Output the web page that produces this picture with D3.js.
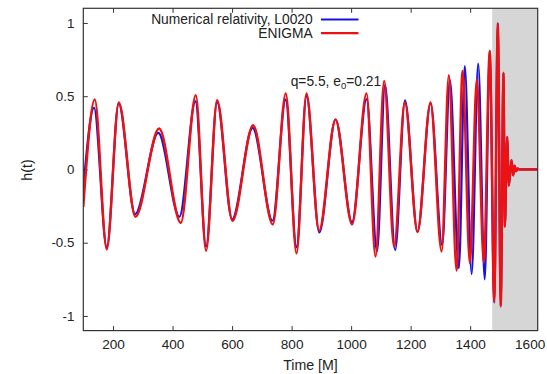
<!DOCTYPE html>
<html>
<head>
<meta charset="utf-8">
<script src="https://cdn.jsdelivr.net/npm/d3@7"></script>
<style>
  html, body { margin: 0; padding: 0; background: #fff; }
  svg { display: block; font-family: "Liberation Sans", Arial, Helvetica, sans-serif; }
</style>
</head>
<body>
<svg id="chart" width="547" height="374"></svg>
<script>
// Extrema (and a few anchor points) of the strain h(t), time in units of M.
const enigmaTime = [100, 138.5, 178.8, 219.2, 275.3, 354.6, 427.6, 478, 512.6, 549.6, 601.3, 670.6,
  736.8, 780.5, 816.5, 850, 892.4, 947.6, 1003.4, 1051.8, 1082, 1111, 1144.5, 1180.5, 1223.2, 1267,
  1304, 1328.4, 1354.3, 1374.5, 1399, 1422.5, 1446, 1466, 1480.7, 1493, 1502.8, 1512, 1516.6,
  1524.4, 1530, 1539, 1544.5, 1549.5, 1554.6, 1560, 1566, 1627];
const enigmaStrain = [-0.255, 0.477, -0.545, 0.457, -0.323, 0.28, -0.364, 0.506, -0.555, 0.472, -0.35, 0.302,
  -0.375, 0.518, -0.573, 0.518, -0.418, 0.34, -0.375, 0.518, -0.595, 0.604, -0.528, 0.457, -0.425, 0.457,
  -0.56, 0.643, -0.69, 0.672, -0.64, 0.615, -0.637, 0.81, -0.9, 0.995, -0.935, 0.66, -0.39,
  0.222, -0.11, 0.063, -0.04, 0.025, -0.012, 0.006, 0, 0];

const nrTime = [100, 136, 179, 219, 274, 352, 423, 477, 512.6, 549.6, 600, 669,
  736, 780, 816.5, 850, 893, 947.6, 1003, 1052, 1087, 1114, 1148, 1181, 1223, 1267,
  1306, 1332, 1362, 1382, 1405, 1427, 1449, 1466, 1481, 1493, 1502.8, 1512, 1516.6,
  1524.4, 1530, 1539, 1544.5, 1549.5, 1554.6, 1560, 1566, 1627];
const nrStrain = [-0.13, 0.42, -0.53, 0.45, -0.305, 0.25, -0.323, 0.465, -0.525, 0.46, -0.34, 0.284,
  -0.35, 0.477, -0.53, 0.5, -0.43, 0.34, -0.36, 0.48, -0.56, 0.575, -0.55, 0.472, -0.425, 0.45,
  -0.516, 0.61, -0.675, 0.706, -0.714, 0.722, -0.75, 0.81, -0.91, 1.0, -0.93, 0.66, -0.39,
  0.222, -0.11, 0.063, -0.04, 0.025, -0.012, 0.006, 0, 0];

const xTicks = [200, 400, 600, 800, 1000, 1200, 1400, 1600];
const yTicks = [-1, -0.5, 0, 0.5, 1];
const ringdownStart = 1474;

const series = [
  { name: "Numerical relativity, L0020", color: "#1414e6", width: 2.2, time: nrTime, strain: nrStrain },
  { name: "ENIGMA", color: "#ee1111", width: 2.4, time: enigmaTime, strain: enigmaStrain }
];

const svg = d3.select("#chart");
const plot = { left: 83.3, right: 537.7, top: 8.3, bottom: 330.6 };

const x = d3.scaleLinear().domain([100, 1627]).range([plot.left, plot.right]);
const y = d3.scaleLinear().domain([-1.1, 1.1]).range([plot.bottom, plot.top]);

const axisColor = "#333";
const textColor = "#222";

svg.append("clipPath").attr("id", "plotClip")
  .append("rect")
  .attr("x", plot.left).attr("y", plot.top)
  .attr("width", plot.right - plot.left).attr("height", plot.bottom - plot.top);

// Ticks on all four sides, pointing inward
const tickLen = 4.5;
const bottomAxis = d3.axisBottom(x).tickValues(xTicks).tickSize(-tickLen).tickPadding(9).tickFormat(d3.format("d"));
const topAxis = d3.axisTop(x).tickValues(xTicks).tickSize(-tickLen).tickFormat("");
const leftAxis = d3.axisLeft(y).tickValues(yTicks).tickSize(-tickLen).tickPadding(9).tickFormat(d => String(d));
const rightAxis = d3.axisRight(y).tickValues(yTicks).tickSize(-tickLen).tickFormat("");

function styleAxis(g, size) {
  g.select(".domain").remove();
  g.selectAll(".tick line").attr("stroke", axisColor).attr("stroke-width", 1);
  g.selectAll(".tick text").attr("fill", textColor).attr("font-size", size)
    .attr("font-family", "'Liberation Sans', Arial, Helvetica, sans-serif");
}

svg.append("g").attr("transform", `translate(0,${plot.bottom})`).call(bottomAxis).call(styleAxis, 13.6);
svg.append("g").attr("transform", `translate(0,${plot.top})`).call(topAxis).call(styleAxis, 13);
svg.append("g").attr("transform", `translate(${plot.left},0)`).call(leftAxis).call(styleAxis, 13.3);
svg.append("g").attr("transform", `translate(${plot.right},0)`).call(rightAxis).call(styleAxis, 13);

// Shaded merger / ringdown window
svg.append("rect")
  .attr("x", x(ringdownStart)).attr("y", plot.top)
  .attr("width", x(1627) - x(ringdownStart)).attr("height", plot.bottom - plot.top)
  .attr("fill", "#d6d6d6");

// Waveforms
const line = d3.line().x(d => x(d[0])).y(d => y(d[1])).curve(d3.curveMonotoneX);
const curves = svg.append("g").attr("clip-path", "url(#plotClip)");
series.forEach(s => {
  curves.append("path")
    .datum(d3.zip(s.time, s.strain))
    .attr("d", line)
    .attr("fill", "none")
    .attr("stroke", s.color)
    .attr("stroke-width", s.width)
    .attr("stroke-linejoin", "round");
});

// Frame
svg.append("rect")
  .attr("x", plot.left).attr("y", plot.top)
  .attr("width", plot.right - plot.left).attr("height", plot.bottom - plot.top)
  .attr("fill", "none").attr("stroke", axisColor).attr("stroke-width", 1.2);

// Legend
const legend = svg.append("g");
series.forEach((s, i) => {
  const ly = 19.5 + i * 13.6;
  legend.append("text")
    .attr("x", 312.7).attr("y", ly).attr("dy", "0.35em")
    .attr("text-anchor", "end").attr("font-size", 13.8).attr("fill", textColor)
    .text(s.name);
  legend.append("line")
    .attr("x1", 321).attr("x2", 358.5).attr("y1", ly).attr("y2", ly)
    .attr("stroke", s.color).attr("stroke-width", s.width);
});

// Parameters annotation
const note = svg.append("text")
  .attr("x", 290.7).attr("y", 85.5).attr("font-size", 13.8).attr("fill", textColor);
note.append("tspan").text("q=5.5, e");
note.append("tspan").attr("font-size", 9.5).attr("dy", 3).text("0");
note.append("tspan").attr("dy", -3).text("=0.21");

// Axis titles
svg.append("text")
  .attr("x", 310.5).attr("y", 370)
  .attr("text-anchor", "middle").attr("font-size", 14.2).attr("fill", textColor)
  .text("Time [M]");
svg.append("text")
  .attr("transform", "translate(31.5,170) rotate(-90)")
  .attr("text-anchor", "middle").attr("font-size", 14.2).attr("fill", textColor)
  .text("h(t)");
</script>
</body>
</html>
